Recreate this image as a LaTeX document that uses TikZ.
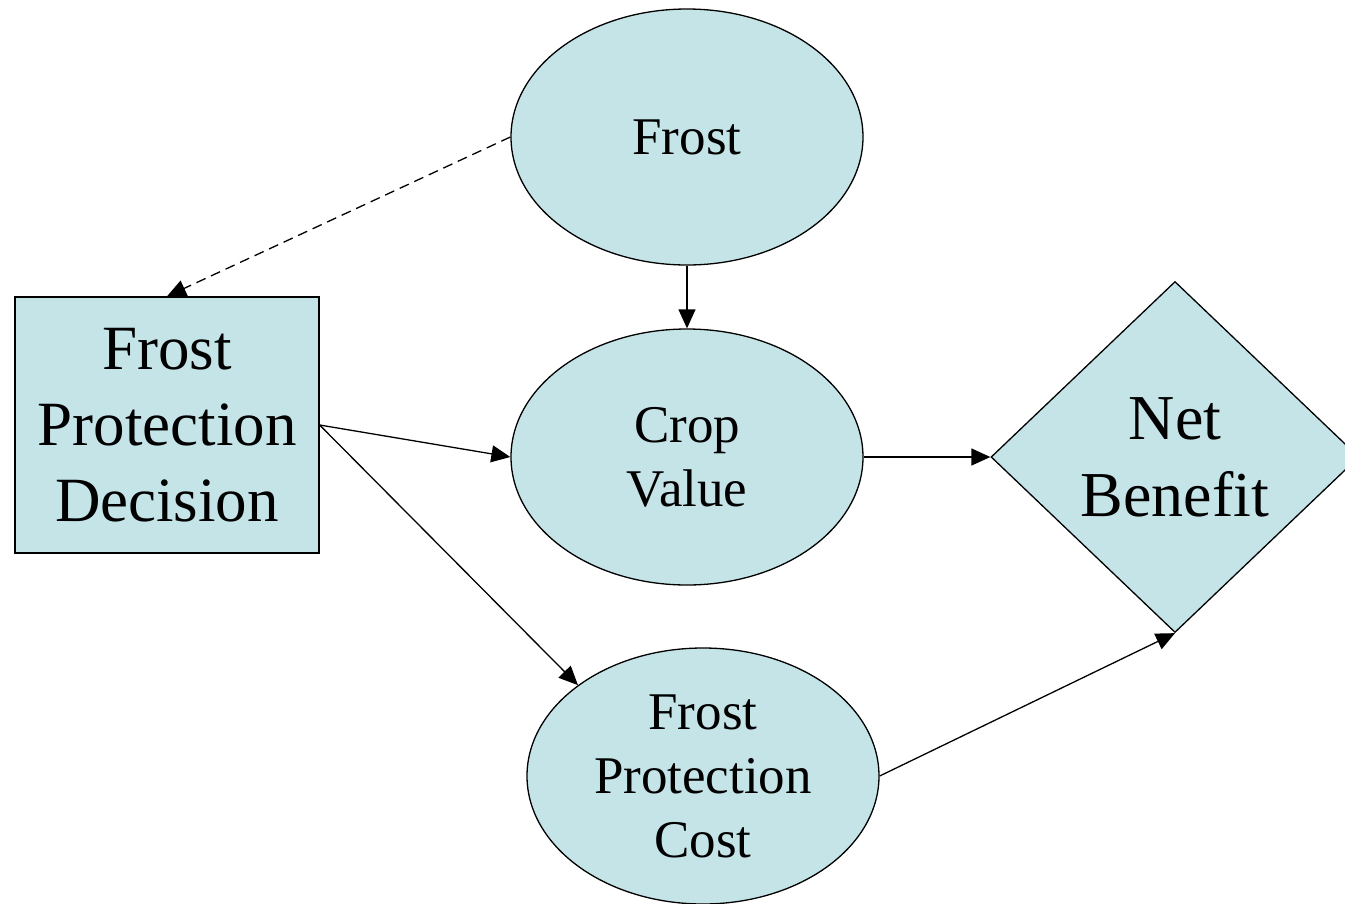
\documentclass[tikz,border=0pt]{standalone}
\usepackage{fontspec}
\setmainfont{Liberation Serif}
\usetikzlibrary{shapes.geometric,arrows.meta}
\definecolor{nodeblue}{RGB}{197,228,232}
\begin{document}
\begin{tikzpicture}[x=1pt,y=-1pt,
    chance/.style={ellipse, draw, fill=nodeblue, line width=1.3pt, inner sep=0pt,
      minimum width=352pt, minimum height=256pt, align=center,
      font=\fontsize{53}{64}\selectfont},
    decision/.style={rectangle, draw, fill=nodeblue, line width=1.3pt, inner sep=0pt,
      minimum width=304pt, minimum height=256pt, align=center,
      font=\fontsize{63}{76}\selectfont},
    value/.style={diamond, draw, fill=nodeblue, line width=1.3pt, inner sep=0pt,
      minimum width=368pt, minimum height=351pt, align=center,
      font=\fontsize{64}{77}\selectfont},
    link/.style={-{Triangle[length=19pt,width=17pt]}, line width=1.3pt}]
  \useasboundingbox (0,0) rectangle (1345,903);

  % draw the nodes
  \node[chance] (frost) at (687,137) {Frost};
  \node[chance] (crop) at (687,457) {Crop\\Value};
  \node[chance] (cost) at (703,776) {Frost\\Protection\\Cost};
  \node[decision] (dec) at (167,425) {Frost\\Protection\\Decision};
  \node[value] (net) at (1175,457) {Net\\Benefit};

  % draw the arrows between them
  \draw[link, dash pattern=on 10pt off 6pt] (frost.west) -- (dec.north);
  \draw[link] (frost.south) -- (crop.north);
  \draw[link] (dec.east) -- (crop.west);
  \draw[link] (dec.east) -- (cost.144);
  \draw[link] (crop.east) -- (net.west);
  \draw[link] (cost.east) -- (net.south);
\end{tikzpicture}
\end{document}
